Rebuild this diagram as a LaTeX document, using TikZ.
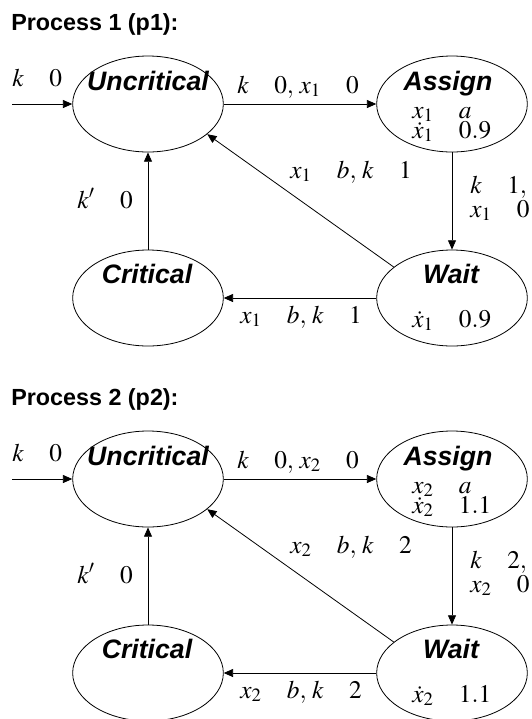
\documentclass[tikz,border=0pt]{standalone}
\usepackage{mathptmx}
\usepackage{fontspec}
\setmainfont{Liberation Serif}
\setsansfont{Liberation Sans}
\usetikzlibrary{arrows.meta,shapes.geometric}

\begin{document}
\begin{tikzpicture}[x=0.75pt,y=-0.75pt,
  state/.style={draw,ellipse,line width=.6pt,minimum width=113pt,minimum height=72pt,inner sep=0pt},
  sname/.style={anchor=base,inner sep=0pt,font=\sffamily\bfseries\itshape\fontsize{20}{20}\selectfont},
  guard/.style={anchor=base west,inner sep=0pt,font=\fontsize{19}{19}\selectfont},
  edge/.style={line width=.6pt,-{Triangle[length=7pt,width=6pt]}},
  ptitle/.style={anchor=base west,inner sep=0pt,font=\sffamily\bfseries\fontsize{17.5}{20}\selectfont}]
\useasboundingbox (0,0) rectangle (532,719);

% process 1
\node[ptitle] (head1) at (11,30) {Process 1 (p1):};
\node[state] (unc1) at (148,104) {};
\node[state] (asg1) at (452,104) {};
\node[state] (crit1) at (148,298) {};
\node[state] (wait1) at (452,298) {};
\node[sname] (unc1n) at (148,90) {Uncritical};
\node[sname] (asg1n) at (448,90) {Assign};
\node[sname] (crit1n) at (147,283) {Critical};
\node[sname] (wait1n) at (451,283) {Wait};
\node[guard] (asg1a) at (412,118) {$x_1\quad a$};
\node[guard] (asg1b) at (412,138) {$\dot{x}_1\quad 0.9$};
\node[guard] (wait1a) at (412,327) {$\dot{x}_1\quad 0.9$};
\coordinate (in1) at (12,104);
\draw[edge] (in1) -- (unc1.west);
\draw[edge] (unc1.east) -- (asg1.west);
\draw[edge] (asg1.south) -- (wait1.north);
\draw[edge] (wait1.152) -- (unc1.-27);
\draw[edge] (wait1.west) -- (crit1.east);
\draw[edge] (crit1.north) -- (unc1.south);
\node[guard] (in1g) at (12,86) {$k\quad 0$};
\node[guard] (go1g) at (237,93) {$k\quad 0,\, x_1\quad 0$};
\node[guard] (back1g) at (290,178) {$x_1\quad b,\, k\quad 1$};
\node[guard] (sync1g) at (470,193) {$k\quad 1,$};
\node[guard] (sync1h) at (470,217) {$x_1\quad 0$};
\node[guard] (crit1g) at (240,323) {$x_1\quad b,\, k\quad 1$};
\node[guard] (rel1g) at (77,208) {$k'\quad 0$};

% process 2
\node[ptitle] (head2) at (11,405) {Process 2 (p2):};
\node[state] (unc2) at (148,479) {};
\node[state] (asg2) at (452,479) {};
\node[state] (crit2) at (148,673) {};
\node[state] (wait2) at (452,673) {};
\node[sname] (unc2n) at (148,465) {Uncritical};
\node[sname] (asg2n) at (448,465) {Assign};
\node[sname] (crit2n) at (147,658) {Critical};
\node[sname] (wait2n) at (451,658) {Wait};
\node[guard] (asg2a) at (412,493) {$x_2\quad a$};
\node[guard] (asg2b) at (412,513) {$\dot{x}_2\quad 1.1$};
\node[guard] (wait2a) at (412,702) {$\dot{x}_2\quad 1.1$};
\coordinate (in2) at (12,479);
\draw[edge] (in2) -- (unc2.west);
\draw[edge] (unc2.east) -- (asg2.west);
\draw[edge] (asg2.south) -- (wait2.north);
\draw[edge] (wait2.152) -- (unc2.-27);
\draw[edge] (wait2.west) -- (crit2.east);
\draw[edge] (crit2.north) -- (unc2.south);
\node[guard] (in2g) at (12,461) {$k\quad 0$};
\node[guard] (go2g) at (237,468) {$k\quad 0,\, x_2\quad 0$};
\node[guard] (back2g) at (290,553) {$x_2\quad b,\, k\quad 2$};
\node[guard] (sync2g) at (470,568) {$k\quad 2,$};
\node[guard] (sync2h) at (470,592) {$x_2\quad 0$};
\node[guard] (crit2g) at (240,698) {$x_2\quad b,\, k\quad 2$};
\node[guard] (rel2g) at (77,583) {$k'\quad 0$};
\end{tikzpicture}
\end{document}
